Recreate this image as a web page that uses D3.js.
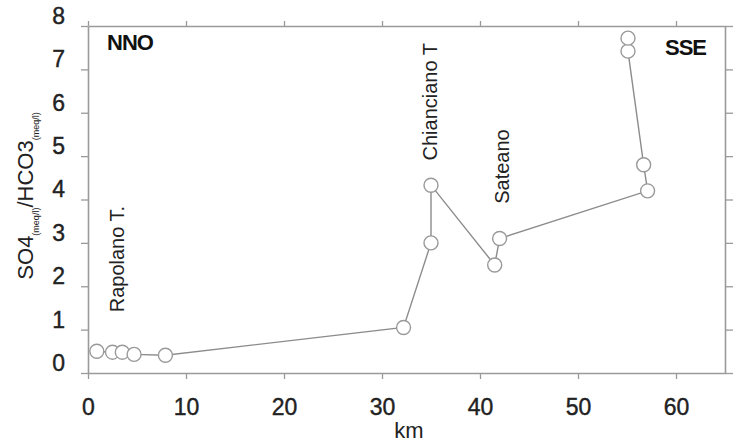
<!DOCTYPE html>
<html>
<head>
<meta charset="utf-8">
<script src="https://cdn.jsdelivr.net/npm/d3@7"></script>
<style>
  body { margin: 0; background: #fff; }
  text { font-family: "Liberation Sans", Arial, sans-serif; }
</style>
</head>
<body>
<div id="chart"></div>
<script>
const width = 733
const height = 445
const margin = {top: 26, right: 8, bottom: 72, left: 88}

/* Distance along the transect (km) and SO4/HCO3 ratio, in drawing order */
const km = [0.9, 2.5, 3.5, 4.7, 7.9, 32.2, 35.0, 35.0, 41.5, 42.0, 57.1, 56.7, 55.1, 55.1]
const ratio = [0.5, 0.48, 0.48, 0.43, 0.41, 1.05, 3.0, 4.33, 2.49, 3.1, 4.2, 4.8, 7.42, 7.72]

const xTicks = [0, 10, 20, 30, 40, 50, 60]
const yTicks = [0, 1, 2, 3, 4, 5, 6, 7, 8]

/* Site names, placed at (km, ratio) of their bottom end */
const siteNames = ['Rapolano T.', 'Chianciano T', 'Sateano']
const siteKm = [3.7, 35.6, 43.0]
const siteRatio = [1.4, 4.9, 3.9]

const points = km.map((k, i) => ({km: k, ratio: ratio[i]}))

const x = d3.scaleLinear().domain([0, 65]).range([margin.left, width - margin.right])
const y = d3.scaleLinear().domain([0, 8]).range([height - margin.bottom, margin.top])

const svg = d3.select('#chart').append('svg').attr('width', width).attr('height', height)

const grey = '#9a9a9a'

/* frame: four axes, labels only on left and bottom */
const bottom = svg.append('g')
    .attr('transform', `translate(0,${y(0)})`)
    .call(d3.axisBottom(x).tickValues(xTicks).tickSize(6).tickSizeOuter(0).tickPadding(20))
const left = svg.append('g')
    .attr('transform', `translate(${x(0)},0)`)
    .call(d3.axisLeft(y).tickValues(yTicks).tickSize(7).tickSizeOuter(0).tickPadding(16))
svg.append('g')
    .attr('transform', `translate(0,${y(8)})`)
    .call(d3.axisTop(x).tickValues(xTicks).tickSize(5).tickSizeOuter(0).tickFormat(''))
svg.append('g')
    .attr('transform', `translate(${x(65)},0)`)
    .call(d3.axisRight(y).tickValues(yTicks).tickSize(8).tickSizeOuter(0).tickFormat(''))

svg.selectAll('.domain').attr('stroke', grey).attr('stroke-width', 1.6)
svg.selectAll('.tick line').attr('stroke', grey).attr('stroke-width', 1.3)
svg.selectAll('.tick text')
    .attr('fill', '#222').attr('font-size', 23)
    .attr('stroke', '#222').attr('stroke-width', 0.4)
left.selectAll('.tick text').attr('dy', '0.32em').attr('transform', 'translate(0,-10)')

/* axis titles */
svg.append('text')
    .attr('x', 409).attr('y', 438)
    .attr('text-anchor', 'middle')
    .attr('font-size', 22)
    .attr('fill', '#222')
    .text('km')

const ylab = svg.append('text')
    .attr('transform', 'translate(33,196) rotate(-90)')
    .attr('text-anchor', 'middle')
    .attr('font-size', 22)
    .attr('fill', '#222')
ylab.append('tspan').text('SO4')
ylab.append('tspan').attr('font-size', 9).attr('dy', 6).text('(meq/l)')
ylab.append('tspan').attr('dy', -6).text('/HCO3')
ylab.append('tspan').attr('font-size', 9).attr('dy', 6).text('(meq/l)')

/* transect line and samples */
const line = d3.line().x(d => x(d.km)).y(d => y(d.ratio))
svg.append('path')
    .datum(points)
    .attr('d', line)
    .attr('fill', 'none')
    .attr('stroke', '#8c8c8c')
    .attr('stroke-width', 1.4)

svg.selectAll('circle.sample')
    .data(points)
    .join('circle')
    .attr('class', 'sample')
    .attr('cx', d => x(d.km))
    .attr('cy', d => y(d.ratio))
    .attr('r', 7)
    .attr('fill', '#fff')
    .attr('stroke', '#999')
    .attr('stroke-width', 1.4)

/* site names */
svg.selectAll('text.site')
    .data(siteNames)
    .join('text')
    .attr('class', 'site')
    .attr('transform', (d, i) => `translate(${x(siteKm[i])},${y(siteRatio[i])}) rotate(-90)`)
    .attr('font-size', 20)
    .attr('fill', '#222')
    .text(d => d)

/* directions */
svg.append('text')
    .attr('x', 107).attr('y', 50)
    .attr('font-size', 22).attr('font-weight', 'bold')
    .attr('letter-spacing', -1)
    .attr('fill', '#111')
    .text('NNO')
svg.append('text')
    .attr('x', 665).attr('y', 55)
    .attr('font-size', 22).attr('font-weight', 'bold')
    .attr('letter-spacing', -1)
    .attr('fill', '#111')
    .text('SSE')
</script>
</body>
</html>
